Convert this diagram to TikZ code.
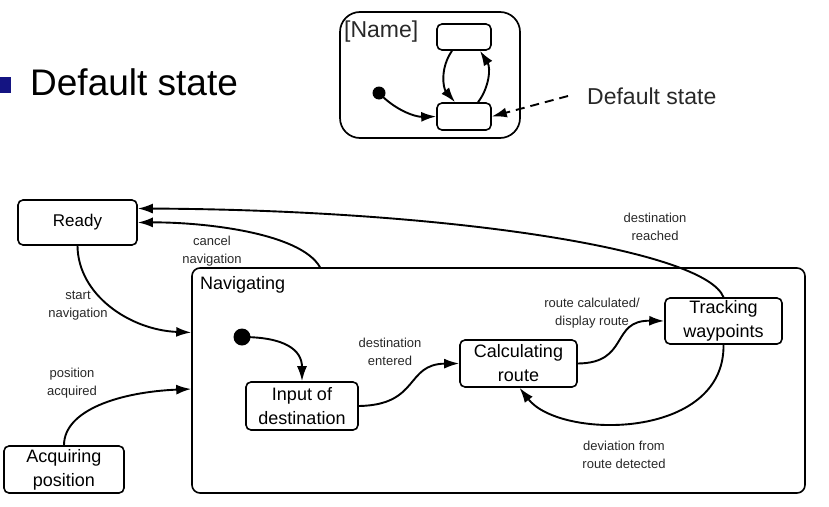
\documentclass[tikz,border=0pt]{standalone}
\usepackage{fontspec}
\setmainfont{Liberation Sans}
\usepackage{xcolor}
\usetikzlibrary{arrows.meta}

\definecolor{bulletblue}{RGB}{20,20,130}
\definecolor{labelgray}{RGB}{40,40,40}

\begin{document}
\begin{tikzpicture}[x=1pt, y=-1pt,
        state/.style={draw, line width=1.6pt, rounded corners=5pt, align=center, inner sep=0pt, font=\fontsize{18}{24}\selectfont},
        trans/.style={line width=1.9pt, -{Latex[length=15pt, width=10pt]}},
        lbl/.style={align=center, text=labelgray, font=\fontsize{13}{18}\selectfont}]
        \useasboundingbox (0,0) rectangle (829,506);

        % top part
        \fill[bulletblue] (0,77) rectangle (11,93);
        \node[anchor=west, inner sep=0pt, font=\fontsize{37}{40}\selectfont] (title) at (30,82) {Default state};

        \node[draw, line width=1.7pt, rounded corners=20pt, minimum width=180pt, minimum height=126pt] (frame) at (430,75) {};
        \node[anchor=north west, inner sep=0pt, text=labelgray, font=\fontsize{23}{26}\selectfont] (name) at (344,21) {[Name]};
        \node[state, minimum width=54pt, minimum height=26pt] (upper) at (464,37) {};
        \node[state, minimum width=54pt, minimum height=27pt] (lower) at (464,116.5) {};
        \fill (379,93) circle (6.5pt) coordinate (sdot);
        \node[anchor=west, inner sep=0pt, text=labelgray, font=\fontsize{23}{26}\selectfont] (dlabel) at (587,96) {Default state};
        \coordinate (dstart) at ([xshift=-19pt]dlabel.west);

        \draw[trans] (sdot) .. controls (395,110) and (415,117) .. (lower.west);
        \draw[trans] ([xshift=-12pt]upper.south) .. controls (440,68) and (443,88) .. ([xshift=-9pt]lower.north);
        \draw[trans] ([xshift=14pt]lower.north) .. controls (489,88) and (491,68) .. ([xshift=16pt]upper.south);
        \draw[trans, dashed, dash pattern=on 9pt off 6pt] (dstart) -- (lower.east);

        % bottom part
        \node[state, rounded corners=8pt, minimum width=613pt, minimum height=225pt] (nav) at (498.5,380.5) {};
        \node[anchor=north west, inner sep=0pt, font=\fontsize{18}{24}\selectfont] (navname) at (200,276) {Navigating};
        \node[state, font=\fontsize{17}{22}\selectfont, minimum width=119pt, minimum height=45pt] (ready) at (77.5,222.5) {Ready};
        \node[state, minimum width=120pt, minimum height=47pt] (acq) at (64,469.5) {Acquiring\\position};
        \node[state, minimum width=112pt, minimum height=48pt] (input) at (302,406) {Input of\\destination};
        \node[state, minimum width=117pt, minimum height=47pt] (calc) at (518.5,363.5) {Calculating\\route};
        \node[state, minimum width=117pt, minimum height=46pt] (track) at (723.5,321) {Tracking\\waypoints};
        \fill (242,337) circle (8.5pt) coordinate (init);

        \draw[trans] (ready.south) .. controls (78,295) and (130,330) .. ([yshift=48pt]nav.west);
        \draw[trans] (acq.north) .. controls (64,410) and (120,392) .. ([yshift=-8.5pt]nav.west);
        \draw[trans] ([xshift=-178.5pt]nav.north) .. controls (300,232) and (200,222) .. (ready.east);
        \draw[trans] (track.north) .. controls (705,250) and (450,210) .. ([yshift=14pt]ready.east);
        \draw[trans] (init) .. controls (285,337) and (302,350) .. (input.north);
        \draw[trans] (input.east) .. controls (420,405) and (405,364) .. (calc.west);
        \draw[trans] (calc.east) .. controls (630,363) and (610,320) .. (track.west);
        \draw[trans] (track.south) .. controls (725,440) and (560,440) .. ([xshift=1pt]calc.south);

        \node[lbl] (lstart) at (78,306) {start\\navigation};
        \node[lbl] (lacq) at (72,383) {position\\acquired};
        \node[lbl] (lcancel) at (212,251) {cancel\\navigation};
        \node[lbl] (lreached) at (655,227) {destination\\reached};
        \node[lbl] (lentered) at (390,352) {destination\\entered};
        \node[lbl] (lcalc) at (592,313) {route calculated/\\display route};
        \node[lbl] (ldev) at (624,455) {deviation from\\route detected};
    \end{tikzpicture}
\end{document}
